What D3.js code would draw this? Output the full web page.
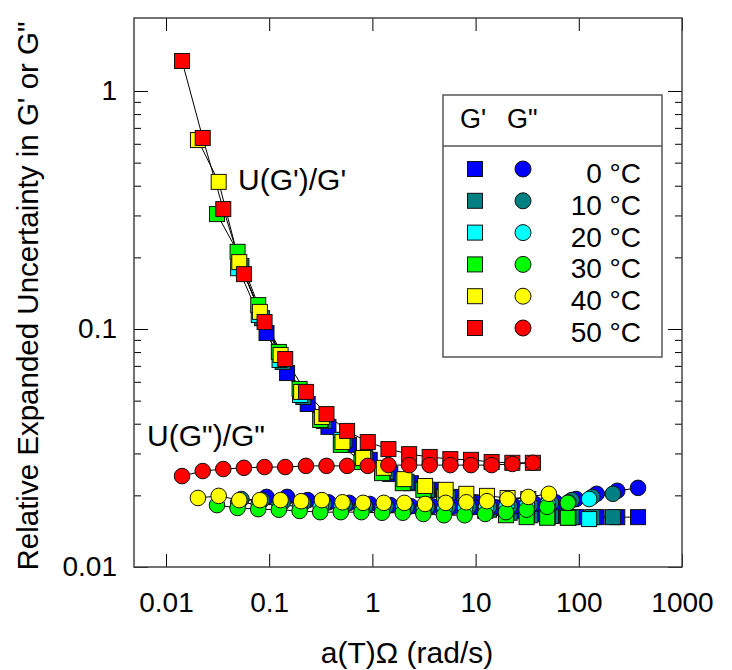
<!DOCTYPE html>
<html>
<head>
<meta charset="utf-8">
<script src="https://cdn.jsdelivr.net/npm/d3@7"></script>
<style>
  html, body { margin: 0; padding: 0; background: #fff; }
  svg { display: block; }
  text { font-family: Arial, "Liberation Sans", Helvetica, sans-serif; fill: #000; }
</style>
</head>
<body>
<svg id="chart" width="732" height="670"></svg>
<script>
// ---------------- data ----------------
const temps = ["0 °C", "10 °C", "20 °C", "30 °C", "40 °C", "50 °C"];
const colors = ["#0000ff", "#008080", "#00ffff", "#00ff00", "#ffff00", "#ff0000"];

const freq0 = [0.0942, 0.149, 0.236, 0.375, 0.594, 0.942, 1.49, 2.36, 3.75, 5.94, 9.42, 14.9, 23.6, 37.5, 59.4, 94.2, 149, 236, 375];
const gp0   = [0.0962, 0.0653, 0.0484, 0.0388, 0.0326, 0.0282, 0.0246, 0.0225, 0.0211, 0.0197, 0.0186, 0.0177, 0.0172, 0.0167, 0.0164, 0.0162, 0.0162, 0.0162, 0.0162];
const gpp0  = [0.0197, 0.0197, 0.0191, 0.0187, 0.0186, 0.0184, 0.0182, 0.0180, 0.0180, 0.0179, 0.0179, 0.0179, 0.0180, 0.0184, 0.0187, 0.0193, 0.0203, 0.0209, 0.0215];

const freq10 = [0.0538, 0.0853, 0.135, 0.214, 0.339, 0.538, 0.853, 1.35, 2.14, 3.39, 5.38, 8.53, 13.5, 21.4, 33.9, 53.8, 85.3, 135, 214];
const gp10   = [0.184, 0.111, 0.0727, 0.0518, 0.0411, 0.0342, 0.0287, 0.0251, 0.0228, 0.0211, 0.0195, 0.0182, 0.0174, 0.0169, 0.0165, 0.0164, 0.0162, 0.0162, 0.0162];
const gpp10  = [0.0193, 0.0191, 0.0187, 0.0186, 0.0184, 0.0182, 0.0180, 0.0180, 0.0179, 0.0179, 0.0179, 0.0179, 0.0179, 0.0180, 0.0182, 0.0186, 0.0191, 0.0197, 0.0203];

const freq20 = [0.050, 0.0792, 0.126, 0.199, 0.315, 0.500, 0.792, 1.26, 1.99, 3.15, 5.00, 7.92, 12.6, 19.9, 31.5, 50.0, 79.2, 126];
const gp20   = [0.180, 0.1145, 0.0741, 0.0528, 0.0415, 0.0342, 0.0287, 0.0253, 0.0230, 0.0213, 0.0199, 0.0186, 0.0177, 0.0170, 0.0165, 0.0162, 0.0161, 0.0159];
const gpp20  = [0.0186, 0.0184, 0.0182, 0.0180, 0.0180, 0.0179, 0.0179, 0.0179, 0.0179, 0.0177, 0.0177, 0.0177, 0.0179, 0.0180, 0.0182, 0.0184, 0.0187, 0.0193];

const freq30 = [0.0312, 0.0494, 0.0783, 0.124, 0.197, 0.312, 0.494, 0.783, 1.24, 1.97, 3.12, 4.94, 7.83, 12.4, 19.7, 31.2, 49.4, 78.3];
const gp30   = [0.304, 0.211, 0.126, 0.0801, 0.0560, 0.0415, 0.0326, 0.0276, 0.0248, 0.0225, 0.0211, 0.0197, 0.0182, 0.0172, 0.0165, 0.0162, 0.0161, 0.0161];
const gpp30  = [0.0182, 0.0177, 0.0175, 0.0174, 0.0172, 0.0170, 0.0170, 0.0170, 0.0169, 0.0169, 0.0167, 0.0165, 0.0165, 0.0167, 0.0170, 0.0174, 0.0179, 0.0186];

const freq40 = [0.0204, 0.0324, 0.0513, 0.0813, 0.129, 0.204, 0.324, 0.513, 0.813, 1.29, 2.04, 3.24, 5.13, 8.13, 12.9, 20.4, 32.4, 51.3];
const gp40   = [0.622, 0.415, 0.191, 0.118, 0.0778, 0.0544, 0.0427, 0.0335, 0.0287, 0.0261, 0.0234, 0.0219, 0.0211, 0.0203, 0.0199, 0.0195, 0.0193, 0.0191];
const gpp40  = [0.0195, 0.0199, 0.0191, 0.0191, 0.0191, 0.0189, 0.0191, 0.0187, 0.0186, 0.0186, 0.0186, 0.0184, 0.0186, 0.0187, 0.0189, 0.0193, 0.0197, 0.0203];

const freq50 = [0.0143, 0.0227, 0.0359, 0.0569, 0.0902, 0.143, 0.227, 0.359, 0.569, 0.902, 1.43, 2.27, 3.59, 5.69, 9.02, 14.3, 22.7, 35.9];
const gp50   = [1.337, 0.635, 0.319, 0.170, 0.107, 0.0748, 0.0544, 0.0439, 0.0373, 0.0335, 0.0313, 0.0298, 0.0290, 0.0284, 0.0282, 0.0276, 0.0274, 0.0274];
const gpp50  = [0.0241, 0.0253, 0.0258, 0.0261, 0.0263, 0.0263, 0.0266, 0.0266, 0.0266, 0.0266, 0.0268, 0.0268, 0.0268, 0.0268, 0.0268, 0.0268, 0.0271, 0.0274];

const xTicks = [0.01, 0.1, 1, 10, 100, 1000];
const xTickLabels = ["0.01", "0.1", "1", "10", "100", "1000"];
const yTicks = [0.01, 0.1, 1];
const yTickLabels = ["0.01", "0.1", "1"];
const yMinor = [0.02,0.03,0.04,0.05,0.06,0.07,0.08,0.09,0.2,0.3,0.4,0.5,0.6,0.7,0.8,0.9];

// ---------------- layout ----------------
const svg = d3.select("#chart");
const L = 134, R = 682, T = 18, B = 567;
const x = d3.scaleLog().domain([Math.pow(10, -2.31), 1000]).range([L, R]);
const y = d3.scaleLog().domain([0.01, Math.pow(10, 0.3067)]).range([B, T]);

const series = [
  {f: freq0,  gp: gp0,  gpp: gpp0},
  {f: freq10, gp: gp10, gpp: gpp10},
  {f: freq20, gp: gp20, gpp: gpp20},
  {f: freq30, gp: gp30, gpp: gpp30},
  {f: freq40, gp: gp40, gpp: gpp40},
  {f: freq50, gp: gp50, gpp: gpp50}
].map((s, i) => ({
  color: colors[i],
  gp: s.f.map((v, j) => ({x: v, y: s.gp[j]})),
  gpp: s.f.map((v, j) => ({x: v, y: s.gpp[j]}))
}));

// ---------------- axes ----------------
function styleAxis(g) {
  g.select(".domain").remove();
  g.selectAll(".tick line").attr("stroke", "#000").attr("stroke-width", 1);
  g.selectAll(".tick text").style("font-size", "28px").attr("fill", "#000");
}
svg.append("g").attr("transform", `translate(0,${B})`)
  .call(d3.axisBottom(x).tickValues(xTicks).tickSize(-13).tickPadding(25)
        .tickFormat((d, i) => xTickLabels[i]))
  .call(styleAxis);
svg.append("g").attr("transform", `translate(0,${T})`)
  .call(d3.axisTop(x).tickValues(xTicks).tickSize(-13).tickFormat(""))
  .call(styleAxis);
svg.append("g").attr("transform", `translate(${L},0)`)
  .call(d3.axisLeft(y).tickValues(yTicks).tickSize(-14).tickPadding(17)
        .tickFormat((d, i) => yTickLabels[i]))
  .call(styleAxis);
svg.append("g").attr("transform", `translate(${L},0)`)
  .call(d3.axisLeft(y).tickValues(yMinor).tickSize(-7).tickFormat(""))
  .call(styleAxis);
svg.append("g").attr("transform", `translate(${R},0)`)
  .call(d3.axisRight(y).tickValues(yTicks).tickSize(-14).tickFormat(""))
  .call(styleAxis);
svg.append("g").attr("transform", `translate(${R},0)`)
  .call(d3.axisRight(y).tickValues(yMinor).tickSize(-7).tickFormat(""))
  .call(styleAxis);

svg.append("rect").attr("x", L).attr("y", T).attr("width", R - L).attr("height", B - T)
  .attr("fill", "none").attr("stroke", "#444").attr("stroke-width", 1.5);

// ---------------- lines ----------------
const line = d3.line().x(d => x(d.x)).y(d => y(d.y));
const plot = svg.append("g");
series.forEach(s => {
  plot.append("path").attr("d", line(s.gp)).attr("fill", "none").attr("stroke", "#000").attr("stroke-width", 1);
  plot.append("path").attr("d", line(s.gpp)).attr("fill", "none").attr("stroke", "#000").attr("stroke-width", 1);
});

// ---------------- markers ----------------
const SQ = 15, RC = 7.8;
series.forEach(s => {
  plot.append("g").selectAll("rect").data(s.gp).join("rect")
    .attr("x", d => x(d.x) - SQ / 2).attr("y", d => y(d.y) - SQ / 2)
    .attr("width", SQ).attr("height", SQ)
    .attr("fill", s.color).attr("stroke", "#111").attr("stroke-width", 1);
});
series.forEach(s => {
  plot.append("g").selectAll("circle").data(s.gpp).join("circle")
    .attr("cx", d => x(d.x)).attr("cy", d => y(d.y)).attr("r", RC)
    .attr("fill", s.color).attr("stroke", "#111").attr("stroke-width", 1);
});

// ---------------- annotations ----------------
svg.append("text").attr("x", 238).attr("y", 190).style("font-size", "30px").text("U(G')/G'");
svg.append("text").attr("x", 147).attr("y", 446).style("font-size", "30px").text("U(G\")/G\"");

// ---------------- axis titles ----------------
svg.append("text").attr("x", 407).attr("y", 663).attr("text-anchor", "middle")
  .style("font-size", "30px").text("a(T)\u03A9 (rad/s)");
svg.append("text").attr("transform", "translate(38,296) rotate(-90)").attr("text-anchor", "middle")
  .style("font-size", "29.5px").text("Relative Expanded Uncertainty in G' or G\"");

// ---------------- legend ----------------
const lg = svg.append("g");
lg.append("rect").attr("x", 443).attr("y", 95).attr("width", 219).attr("height", 262)
  .attr("fill", "#fff").attr("stroke", "#555").attr("stroke-width", 1.5);
lg.append("line").attr("x1", 443).attr("x2", 662).attr("y1", 146).attr("y2", 146)
  .attr("stroke", "#555").attr("stroke-width", 1.5);
lg.append("text").attr("x", 460).attr("y", 128).style("font-size", "27px").text("G'");
lg.append("text").attr("x", 507).attr("y", 128).style("font-size", "27px").text("G\"");
const rowY = d3.scaleLinear().domain([0, 5]).range([169, 328]);
temps.forEach((t, i) => {
  const cy = rowY(i);
  lg.append("rect").attr("x", 475 - 7.5).attr("y", cy - 7.5).attr("width", 15).attr("height", 15)
    .attr("fill", colors[i]).attr("stroke", "#111").attr("stroke-width", 1);
  lg.append("circle").attr("cx", 523).attr("cy", cy).attr("r", 8)
    .attr("fill", colors[i]).attr("stroke", "#111").attr("stroke-width", 1);
  lg.append("text").attr("x", 641).attr("y", cy + 14).attr("text-anchor", "end")
    .style("font-size", "28px").text(t);
});
</script>
</body>
</html>
